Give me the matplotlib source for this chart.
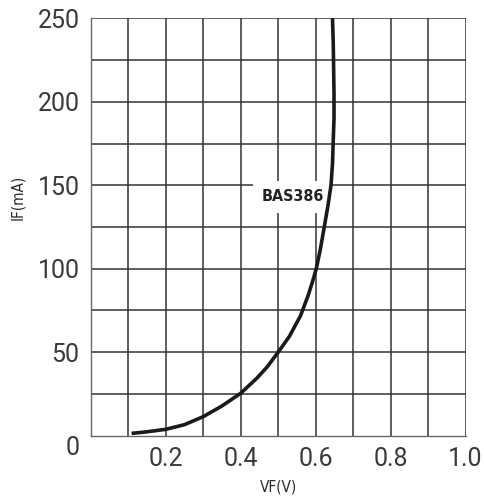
import matplotlib
matplotlib.use('Agg')
import matplotlib.pyplot as plt

# curva diretta BAS386
vf = [0.109, 0.145, 0.2, 0.25, 0.3, 0.35, 0.4, 0.443, 0.47, 0.5, 0.53, 0.56,
      0.58, 0.592, 0.602, 0.612, 0.623, 0.633, 0.641, 0.645, 0.647, 0.649, 0.649,
      0.648, 0.647, 0.645]
if_ma = [1.4, 2.2, 3.8, 6.6, 11.4, 17.8, 25.4, 34.4, 41, 50, 59.5, 72,
         84, 92.5, 100.3, 111, 125, 138, 150, 163, 177, 190, 205,
         220, 235, 250]

x_ticks = [0.2, 0.4, 0.6, 0.8, 1.0]
x_ticklabels = ['0.2', '0.4', '0.6', '0.8', '1.0']
y_ticks = [0, 50, 100, 150, 200, 250]
y_ticklabels = ['0', '50', '100', '150', '200', '250']
label_text = 'BAS386'

tick_font = ['Roboto', 'DejaVu Sans']

fig = plt.figure(figsize=(4.85, 5.0), dpi=100)
ax = fig.add_axes([0.187, 0.1286, 0.773, 0.8348])

# griglia ogni 0.1 V e 25 mA
for xv in [i / 10 for i in range(1, 11)]:
    ax.axvline(xv, color='#333333', lw=1.1, zorder=1)
for yv in range(25, 251, 25):
    ax.axhline(yv, color='#333333', lw=1.1, zorder=1)

ax.plot(vf, if_ma, color='#1a1a1a', lw=2.6, solid_capstyle='butt',
        solid_joinstyle='round', zorder=4)

ax.text(0.456, 143, label_text, fontsize=11.5, fontweight='bold', family='DejaVu Sans',
        fontstretch='condensed', color='#222222', ha='left', va='center', zorder=3,
        bbox=dict(facecolor='white', edgecolor='none', pad=6))

ax.set_xlim(0, 1.0)
ax.set_ylim(0, 250)
ax.set_xticks(x_ticks)
ax.set_xticklabels(x_ticklabels, family=tick_font, fontsize=18, color='#3a3a3a')
ax.set_yticks(y_ticks)
ax.set_yticklabels(y_ticklabels, family=tick_font, fontsize=18, color='#3a3a3a')
ax.tick_params(axis='x', length=0, pad=8)
ax.tick_params(axis='y', length=0, pad=8)
ax.get_yticklabels()[0].set_va('top')

for s in ['top', 'right']:
    ax.spines[s].set_visible(False)
for s in ['left', 'bottom']:
    ax.spines[s].set_color('#666666')
    ax.spines[s].set_linewidth(1.0)

ax.set_xlabel('VF(V)', family='DejaVu Sans', fontstretch='condensed', fontsize=11,
              color='#2a2a2a')
ax.set_ylabel('IF(mA)', family='DejaVu Sans', fontstretch='condensed', fontsize=11,
              color='#2a2a2a')
ax.xaxis.set_label_coords(0.5, -0.105)
ax.yaxis.set_label_coords(-0.175, 0.572)

fig.savefig('out.png', dpi=100)
